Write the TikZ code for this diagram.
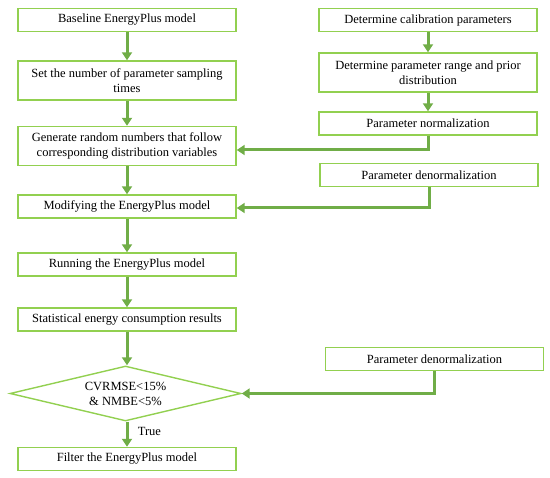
\documentclass[tikz,border=0pt]{standalone}
\usepackage{fontspec}
\setmainfont{Liberation Serif}
\usetikzlibrary{arrows.meta, shapes.geometric}

\definecolor{boxgreen}{HTML}{92D050}
\definecolor{arrowgreen}{HTML}{70AD47}

\begin{document}
\begin{tikzpicture}[
    x=1pt, y=-1pt,
    >={Triangle[length=8pt, width=10pt]},
    font=\fontsize{12.5}{15}\selectfont,
    stepbox/.style={draw=boxgreen, line width=1.4pt, rectangle, align=center,
                    minimum width=218pt, inner sep=0pt},
    onebox/.style={stepbox, minimum height=23pt},
    twobox/.style={stepbox, minimum height=39pt},
    checkbox/.style={draw=boxgreen, line width=1.4pt, diamond, aspect=4.2,
                     align=center, inner sep=0pt, minimum width=231pt,
                     minimum height=55pt},
    flow/.style={->, line width=3pt, draw=arrowgreen},
]
\useasboundingbox (0, 0) rectangle (550, 478);

% --- Left column ---
\node[onebox] (base) at (127, 20) {Baseline EnergyPlus model};
\node[twobox] (nsamp) at (127, 80.5) {Set the number of parameter sampling\\times};
\node[twobox] (gen) at (127, 146) {Generate random numbers that follow\\corresponding distribution variables};
\node[onebox] (modify) at (127, 206.5) {Modifying the EnergyPlus model};
\node[onebox] (run) at (127, 264.5) {Running the EnergyPlus model};
\node[onebox] (stat) at (127, 319.5) {Statistical energy consumption results};
\node[checkbox] (check) at (125.5, 393.5) {CVRMSE<15\%\\\& NMBE<5\%};
\node[onebox] (filter) at (127, 459) {Filter the EnergyPlus model};

% --- Right column ---
\node[onebox] (calib) at (428, 20) {Determine calibration parameters};
\node[twobox] (range) at (428, 72.5) {Determine parameter range and prior\\distribution};
\node[onebox] (norm) at (428, 123.5) {Parameter normalization};
\node[onebox] (denorm) at (429, 175) {Parameter denormalization};
\node[onebox] (denormb) at (434.5, 359) {Parameter denormalization};

% entry points on the right side of the left column
\coordinate (genin) at ([yshift=-4pt]gen.east);
\coordinate (modin) at ([yshift=-1.5pt]modify.east);

% --- Main flow ---
\draw[flow] (base) -- (nsamp);
\draw[flow] (nsamp) -- (gen);
\draw[flow] (gen) -- (modify);
\draw[flow] (modify) -- (run);
\draw[flow] (run) -- (stat);
\draw[flow] (stat) -- (check.north -| stat);
\draw[flow] (check.south -| filter) -- node[right=6pt, pos=0.4] {True} (filter);

% --- Parameter branch ---
\draw[flow] (calib) -- (range);
\draw[flow] (range) -- (norm);
\draw[flow] (norm.south) |- (genin);
\draw[flow] (denorm.south) |- (modin);
\draw[flow] (denormb.south) |- (check.east);

\end{tikzpicture}
\end{document}
